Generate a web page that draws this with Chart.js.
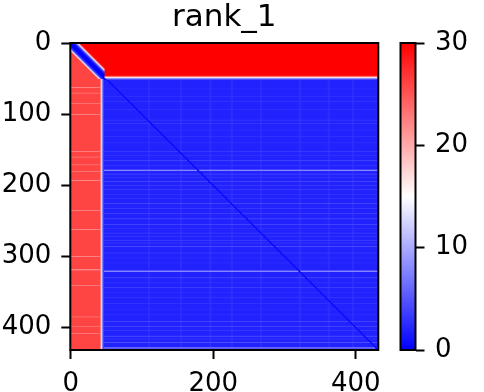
<!DOCTYPE html>
<html>
<head>
<meta charset="utf-8">
<script src="https://cdn.jsdelivr.net/npm/chart.js@4/dist/chart.umd.min.js"></script>
<style>
  html, body { margin: 0; padding: 0; background: #fff; }
  #wrap { position: relative; width: 484px; height: 392px; }
  #heat { position: absolute; left: 0; top: 0; }
  #cbar { position: absolute; left: 380px; top: 0; }
</style>
</head>
<body>
<div id="wrap">
  <canvas id="heat" width="484" height="392"></canvas>
  <canvas id="cbar" width="104" height="392"></canvas>
</div>
<script>
// matrix size and colour range
const N = 432;
const vMin = 0, vMax = 30;
const titleText = "rank_1";
const xTicks = [0, 200, 400];
const yTicks = [0, 100, 200, 300, 400];
const cbTicks = [0, 10, 20, 30];

// red bands: rows above topEnd, columns left of leftEnd
const topEnd = 50;
const leftEnd = 45;
const redTop = 30;
const redLeft = 26;
const blueBase = 2;
// tones across a band edge, from 4 cells inside the red side to 2 cells into blue
const edgeProfile = [26, 22, 17, 11, 6, 4];
// corner block: tone by distance from the diagonal
const diagRamp = [0, 0, 0, 0, 1, 2, 3, 5, 8, 12, 17, 22, 26, 29];
// lighter streaks inside the left red band
const leftStreakRows = [62, 70, 85, 100, 152, 160, 171, 180, 193, 235, 262, 300, 318, 319, 341, 385, 398, 408];
const leftStreakTone = 22;
// horizontal light lines in the blue block
const stripeRows = [64, 75, 82, 93, 108, 113, 122, 131, 140, 152, 158, 165, 172, 178, 179, 184, 189, 194, 200, 206, 213, 218, 225, 232, 239, 247, 255, 261, 267, 272, 277, 281, 286, 295, 302, 309, 320, 321, 330, 337, 344, 351, 358, 366, 374, 382, 391, 398, 404, 412, 416, 421, 428, 429];
const stripeTones = [2.6, 2.8, 3, 2.8, 3.5, 3.5, 3, 2.8, 3, 3.5, 3, 4, 3, 6, 8, 4.5, 3.2, 5, 3.2, 4, 3.2, 3.2, 5, 4, 4.5, 5, 4, 3.2, 4, 3.2, 4, 3.5, 4.5, 4, 3, 3, 6, 8, 5, 3.2, 4.5, 3, 3.5, 3, 2.8, 3, 5, 5, 3.2, 5.5, 3.5, 4.5, 6, 7];
// faint vertical light columns in the blue block
const stripeCols = [110, 155, 196, 226, 267, 322, 362, 396];
const stripeColTone = 2.6;

function buildMatrix() {
  const rowTone = new Float32Array(N).fill(blueBase);
  stripeRows.forEach((r, i) => { rowTone[r] = Math.max(rowTone[r], stripeTones[i]); });
  const colTone = new Float32Array(N).fill(blueBase);
  stripeCols.forEach(c => { for (let k = c - 1; k <= c + 1; k++) colTone[k] = stripeColTone; });
  const leftTone = new Float32Array(N).fill(redLeft);
  leftStreakRows.forEach(r => { leftTone[r] = leftStreakTone; });

  const m = new Float32Array(N * N);
  for (let r = 0; r < N; r++) {
    for (let c = 0; c < N; c++) {
      let v;
      const inTop = r < topEnd + 2 && c >= r;
      const inLeft = c < leftEnd + 2 && r > c;
      if (inTop && c > leftEnd + 2) {
        v = redTop;
        const p = r - (topEnd - 4);
        if (p >= 0) v = edgeProfile[p];
      } else if (inLeft && r > topEnd) {
        v = leftTone[r];
        const p = c - (leftEnd - 4);
        if (p >= 0) v = Math.min(v, edgeProfile[p]);
      } else if (r < topEnd + 2 && c < leftEnd + 6) {
        // corner block, red except the blue diagonal
        v = c >= r ? redTop : redLeft;
        const d = Math.abs(r - c);
        if (d < diagRamp.length) v = Math.min(v, diagRamp[d]);
        if (r >= topEnd - 4 && c >= leftEnd - 2) v = Math.min(v, edgeProfile[Math.max(0, r - topEnd + 4)]);
      } else {
        v = Math.max(rowTone[r], colTone[c]);
        const d = Math.abs(r - c);
        if (d === 0) v = 0; else if (d === 1) v = Math.min(v, 1);
      }
      m[r * N + c] = v;
    }
  }
  return m;
}

function bwr(v) {
  const t = Math.max(0, Math.min(1, (v - vMin) / (vMax - vMin)));
  if (t < 0.5) { const k = Math.round(t * 2 * 255); return [k, k, 255]; }
  const k = Math.round((1 - t) * 2 * 255);
  return [255, k, k];
}

// paint the matrix into an offscreen image, one pixel per cell
const matrix = buildMatrix();
const off = document.createElement("canvas");
off.width = N; off.height = N;
const octx = off.getContext("2d");
const img = octx.createImageData(N, N);
for (let i = 0; i < N * N; i++) {
  const [r, g, b] = bwr(matrix[i]);
  img.data[i * 4] = r; img.data[i * 4 + 1] = g; img.data[i * 4 + 2] = b; img.data[i * 4 + 3] = 255;
}
octx.putImageData(img, 0, 0);

const font = { family: "DejaVu Sans", size: 26 };

const heatmap = {
  id: "heatmap",
  beforeDatasetsDraw(chart) {
    const { ctx, scales: { x, y } } = chart;
    const x0 = x.getPixelForValue(-0.5), x1 = x.getPixelForValue(N - 0.5);
    const y0 = y.getPixelForValue(-0.5), y1 = y.getPixelForValue(N - 0.5);
    ctx.save();
    ctx.imageSmoothingEnabled = true;
    ctx.imageSmoothingQuality = "high";
    ctx.drawImage(off, x0, y0, x1 - x0, y1 - y0);
    ctx.restore();
  },
  afterDraw(chart) {
    const { ctx, chartArea: a } = chart;
    ctx.save();
    ctx.strokeStyle = "#000";
    ctx.lineWidth = 2;
    ctx.strokeRect(a.left, a.top, a.right - a.left, a.bottom - a.top);
    ctx.fillStyle = "#000";
    ctx.font = "31px 'DejaVu Sans'";
    ctx.textAlign = "center";
    ctx.textBaseline = "alphabetic";
    ctx.fillText(titleText, (a.left + a.right) / 2, 26);
    ctx.restore();
  }
};

function axis(ticksList, extra) {
  return Object.assign({
    type: "linear",
    min: -0.5,
    max: N - 0.5,
    afterBuildTicks: s => { s.ticks = ticksList.map(v => ({ value: v })); },
    grid: { drawOnChartArea: false, tickLength: 9, tickWidth: 2, tickColor: "#000" },
    border: { display: false },
    ticks: { color: "#000", font: font, autoSkip: false, maxRotation: 0, padding: 10 }
  }, extra);
}

new Chart(document.getElementById("heat"), {
  type: "scatter",
  data: { datasets: [{ data: [] }] },
  options: {
    responsive: false,
    animation: false,
    layout: { padding: { left: 0, top: 43, right: 105.7, bottom: 0 } },
    plugins: { legend: { display: false }, tooltip: { enabled: false } },
    scales: {
      x: axis(xTicks, { afterFit: s => { s.height = 42; } }),
      y: axis(yTicks, { reverse: true, afterFit: s => { s.width = 70.3; } })
    }
  },
  plugins: [heatmap]
});

// colour bar
const cbFrame = {
  id: "cbFrame",
  afterDraw(chart) {
    const { ctx, chartArea: a } = chart;
    ctx.save();
    ctx.strokeStyle = "#000";
    ctx.lineWidth = 2;
    ctx.strokeRect(a.left, a.top, a.right - a.left, a.bottom - a.top);
    ctx.restore();
  }
};

new Chart(document.getElementById("cbar"), {
  type: "bar",
  data: {
    labels: [""],
    datasets: [{
      data: [[vMin, vMax]],
      barPercentage: 1,
      categoryPercentage: 1,
      backgroundColor: c => {
        const { chartArea, ctx } = c.chart;
        if (!chartArea) return "#fff";
        const g = ctx.createLinearGradient(0, chartArea.bottom, 0, chartArea.top);
        g.addColorStop(0, "rgb(0,0,255)");
        g.addColorStop(0.5, "rgb(255,255,255)");
        g.addColorStop(1, "rgb(255,0,0)");
        return g;
      }
    }]
  },
  options: {
    responsive: false,
    animation: false,
    layout: { padding: { left: 20.5, top: 43, right: 0, bottom: 42 } },
    plugins: { legend: { display: false }, tooltip: { enabled: false } },
    scales: {
      x: { display: false },
      y: {
        position: "right",
        min: vMin,
        max: vMax,
        afterBuildTicks: s => { s.ticks = cbTicks.map(v => ({ value: v })); },
        afterFit: s => { s.width = 68.5; },
        grid: { drawOnChartArea: false, tickLength: 9, tickWidth: 2, tickColor: "#000" },
        border: { display: false },
        ticks: { color: "#000", font: font, padding: 10.5 }
      }
    }
  },
  plugins: [cbFrame]
});
</script>
</body>
</html>
